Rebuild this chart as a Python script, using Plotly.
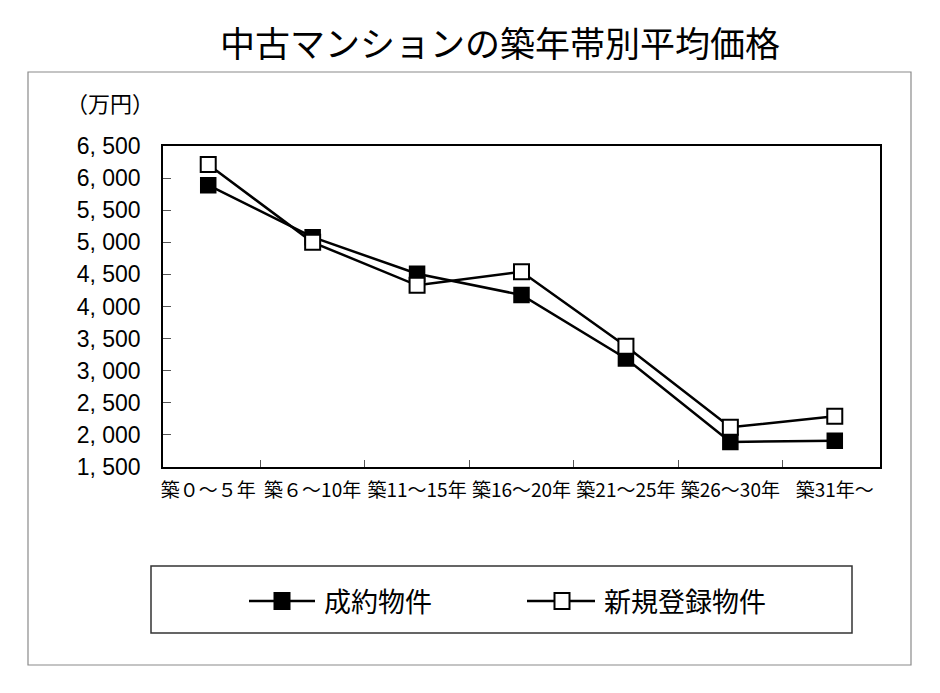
import plotly.graph_objects as go

categories = ["築０～５年", "築６～10年", "築11～15年", "築16～20年", "築21～25年", "築26～30年", "築31年～"]
seiyaku = [5890, 5080, 4510, 4180, 3190, 1890, 1910]
shinki = [6210, 5000, 4330, 4540, 3380, 2120, 2290]
series_names = ["成約物件", "新規登録物件"]
y_tickvals = [1500, 2000, 2500, 3000, 3500, 4000, 4500, 5000, 5500, 6000, 6500]
y_ticktext = ["1, 500", "2, 000", "2, 500", "3, 000", "3, 500", "4, 000", "4, 500", "5, 000", "5, 500", "6, 000", "6, 500"]
title_text = "中古マンションの築年帯別平均価格"
unit_text = "（万円）"

CJK = "Noto Sans CJK JP"
NUM = "Liberation Sans Narrow, Liberation Sans, Noto Sans CJK JP"

# The page body has an 8px margin, so the figure is 16px smaller than the window.
OFF = 8
W, H = 940 - 2 * OFF, 693 - 2 * OFF

# pixel helpers (screen coords) for decoration placement (plot area: x 163..880, y 146..467)
def px(x):
    return (x - 163) / 717

def py(y):
    return (467 - y) / 321

fig = go.Figure()
fig.add_trace(go.Scatter(
    x=categories, y=seiyaku, name=series_names[0], mode="lines+markers",
    line=dict(color="black", width=2.5),
    marker=dict(symbol="square", size=15, color="black", line=dict(color="black", width=1.5)),
    showlegend=False,
))
fig.add_trace(go.Scatter(
    x=categories, y=shinki, name=series_names[1], mode="lines+markers",
    line=dict(color="black", width=2.5),
    marker=dict(symbol="square", size=15, color="white", line=dict(color="black", width=2)),
    showlegend=False,
))

# legend (drawn as shapes + text)
legend_shapes = []
legend_annots = []
legend_items = [
    (series_names[0], 249, 315, 282, "black", 322),
    (series_names[1], 527, 595, 562, "white", 602),
]
ly = 601
for name, lx0, lx1, mx, fill, tx in legend_items:
    legend_shapes.append(dict(type="line", xref="paper", yref="paper",
                              x0=px(lx0), x1=px(lx1), y0=py(ly), y1=py(ly),
                              line=dict(color="black", width=2.5)))
    legend_shapes.append(dict(type="rect", xref="paper", yref="paper",
                              x0=px(mx - 7.5), x1=px(mx + 7.5), y0=py(ly + 8), y1=py(ly - 8),
                              line=dict(color="black", width=2), fillcolor=fill))
    legend_annots.append(dict(text=name, xref="paper", yref="paper", x=px(tx), y=py(ly - 1),
                              xanchor="left", yanchor="middle", showarrow=False,
                              font=dict(family=CJK, size=27, color="black")))

fig.update_layout(
    width=W, height=H,
    margin=dict(l=163 - OFF, r=W - (880 - OFF), t=146 - OFF, b=H - (467 - OFF), autoexpand=False),
    paper_bgcolor="white", plot_bgcolor="white",
    font=dict(family=CJK, color="black"),
    title=dict(text=title_text, x=(500 - OFF) / W, xanchor="center", y=1 - (45 - OFF) / H, yanchor="middle",
               font=dict(family=CJK, size=35, color="black")),
    showlegend=False,
    xaxis=dict(type="category", showline=True, linecolor="black", linewidth=1.5, mirror=True,
               ticks="inside", tickson="boundaries", ticklen=7, tickcolor="#555", tickwidth=1,
               showgrid=False, zeroline=False, ticklabelstandoff=5, tickangle=0, automargin=False,
               tickfont=dict(family=CJK, size=19, color="black")),
    yaxis=dict(range=[1500, 6500], tickvals=y_tickvals, ticktext=y_ticktext,
               showline=True, linecolor="black", linewidth=1.5, mirror=True,
               ticks="inside", ticklen=8, tickcolor="#555", tickwidth=1,
               showgrid=False, zeroline=False, ticklabelstandoff=16, automargin=False,
               tickfont=dict(family=NUM, size=23, color="black")),
    shapes=[
        dict(type="rect", xref="paper", yref="paper",
             x0=px(28), x1=px(911), y0=py(665), y1=py(72),
             line=dict(color="#8a8a8a", width=1.2), fillcolor="rgba(0,0,0,0)", layer="below"),
        dict(type="rect", xref="paper", yref="paper",
             x0=px(151), x1=px(852), y0=py(633), y1=py(566),
             line=dict(color="#333", width=1.5), fillcolor="rgba(0,0,0,0)", layer="below"),
    ] + legend_shapes,
    annotations=[
        dict(text=unit_text, xref="paper", yref="paper", x=px(110), y=py(102),
             xanchor="center", yanchor="middle", showarrow=False,
             font=dict(family=CJK, size=22, color="black")),
    ] + legend_annots,
)

fig.write_html("out.html")
